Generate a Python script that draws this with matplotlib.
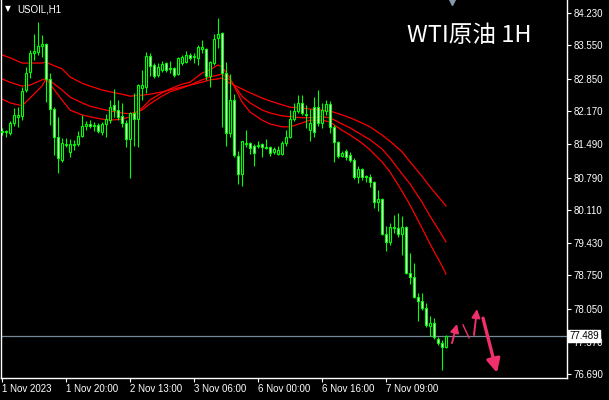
"""
USOIL H1 candlestick chart, MetaTrader style, with three moving averages
and hand-drawn forecast arrows.
"""

import numpy as np
import matplotlib
matplotlib.use("Agg")
import matplotlib.pyplot as plt

# ─── Candles (1 Nov 2023 → 7 Nov, hourly) ────────────────────────────────────
bar_open = [81.76, 81.74, 81.72, 81.93, 82.06, 82.08, 82.62, 82.99, 83.39, 83.41,
            83.54, 83.58, 82.85, 82.22, 81.64, 81.16, 81.47, 81.33, 81.47, 81.49,
            81.66, 81.87, 81.91, 81.87, 81.89, 81.74, 81.91, 81.99, 82.31, 82.20,
            82.08, 81.93, 81.60, 82.14, 82.01, 82.66, 82.68, 83.33, 83.14, 82.93,
            83.04, 83.18, 83.08, 83.08, 82.95, 83.18, 83.20, 83.35, 83.31, 83.29,
            83.47, 83.47, 82.91, 83.18, 83.70, 83.81, 82.97, 81.72, 82.41, 81.24,
            80.87, 81.49, 81.51, 81.45, 81.45, 81.49, 81.43, 81.43, 81.33, 81.28,
            81.28, 81.51, 81.64, 82.01, 82.18, 82.35, 82.12, 81.78, 82.26, 82.26,
            81.93, 82.18, 82.33, 81.85, 81.53, 81.24, 81.35, 81.26, 81.16, 80.80,
            80.97, 80.83, 80.80, 80.70, 80.28, 80.35, 79.62, 79.45, 79.74, 79.74,
            79.62, 79.76, 78.80, 78.72, 78.30, 78.22, 78.07, 77.70, 77.76, 77.43,
            77.34, 77.26]
bar_high = [81.83, 81.78, 81.97, 82.24, 82.26, 82.68, 83.10, 83.45, 83.79, 84.04,
            83.77, 83.60, 82.97, 82.26, 82.06, 81.62, 81.62, 81.60, 81.58, 81.76,
            82.10, 81.97, 81.99, 81.95, 81.93, 81.95, 82.12, 82.41, 82.64, 82.41,
            82.35, 81.99, 82.16, 82.56, 82.74, 83.04, 83.41, 83.39, 83.18, 83.18,
            83.22, 83.20, 83.22, 83.10, 83.31, 83.35, 83.43, 83.39, 83.39, 83.56,
            83.66, 83.49, 83.22, 83.79, 84.12, 83.83, 83.20, 82.95, 82.54, 81.35,
            81.55, 81.78, 81.53, 81.49, 81.55, 81.51, 81.60, 81.45, 81.43, 81.45,
            81.55, 81.78, 82.20, 82.35, 82.51, 82.51, 82.31, 82.22, 82.47, 82.62,
            82.35, 82.41, 82.39, 81.89, 81.55, 81.35, 81.39, 81.33, 81.20, 81.03,
            80.99, 80.85, 80.87, 80.72, 80.53, 80.37, 79.78, 79.85, 80.01, 80.05,
            79.99, 79.78, 79.22, 79.01, 78.39, 78.39, 78.18, 77.91, 77.86, 77.47,
            77.40, 77.51]
bar_low = [81.68, 81.64, 81.68, 81.87, 81.85, 81.99, 82.58, 82.87, 83.24, 83.35,
           83.31, 82.37, 81.89, 81.26, 80.89, 81.12, 81.43, 81.22, 81.37, 81.45,
           81.64, 81.78, 81.83, 81.76, 81.72, 81.68, 81.64, 81.93, 82.06, 81.99,
           81.85, 81.43, 80.78, 81.45, 81.43, 82.41, 82.56, 82.91, 82.87, 82.89,
           82.99, 82.99, 82.97, 82.89, 82.93, 83.14, 83.18, 83.24, 83.18, 83.14,
           83.39, 82.83, 82.68, 83.14, 83.49, 81.85, 81.45, 81.64, 81.22, 80.66,
           80.62, 81.43, 81.28, 81.03, 81.41, 81.22, 81.39, 81.24, 81.28, 81.26,
           81.26, 81.45, 81.62, 81.97, 82.14, 82.10, 81.83, 81.55, 81.64, 81.87,
           81.83, 82.10, 81.72, 81.12, 81.20, 81.22, 81.16, 81.12, 80.76, 80.68,
           80.74, 80.70, 80.60, 80.16, 80.09, 79.59, 79.26, 79.39, 79.64, 79.55,
           79.18, 78.78, 78.57, 78.28, 77.80, 78.03, 77.68, 77.49, 77.43, 77.30,
           76.78, 77.24]
bar_close = [81.74, 81.76, 81.93, 82.10, 82.10, 82.60, 82.97, 83.39, 83.43, 83.54,
             83.58, 82.85, 82.22, 81.64, 81.20, 81.51, 81.49, 81.49, 81.49, 81.66,
             81.87, 81.91, 81.87, 81.89, 81.76, 81.91, 82.01, 82.26, 82.20, 82.06,
             81.93, 81.60, 82.14, 82.01, 82.72, 82.72, 83.33, 83.12, 82.91, 83.10,
             83.16, 83.04, 83.06, 82.93, 83.29, 83.31, 83.35, 83.29, 83.33, 83.52,
             83.52, 82.91, 83.20, 83.68, 83.79, 82.97, 81.72, 82.41, 81.26, 80.87,
             81.55, 81.51, 81.41, 81.30, 81.47, 81.43, 81.41, 81.30, 81.39, 81.37,
             81.51, 81.64, 82.01, 82.18, 82.35, 82.14, 82.10, 81.93, 81.74, 81.93,
             82.20, 82.33, 81.85, 81.53, 81.24, 81.30, 81.22, 81.16, 80.80, 80.97,
             80.80, 80.80, 80.70, 80.28, 80.35, 79.62, 79.45, 79.76, 79.76, 79.62,
             79.76, 78.80, 78.72, 78.30, 78.22, 78.07, 77.72, 77.76, 77.47, 77.34,
             77.26, 77.49]

# ─── Moving averages, read at these bar positions ────────────────────────────
ma_idx = [0, 2, 5, 7, 10, 11, 12, 15, 17, 20, 22, 25, 27, 30, 32, 35, 37, 40, 42, 45,
          47, 50, 52, 54, 55, 57, 60, 62, 65, 67, 70, 72, 75, 77, 80, 82, 85, 87, 90, 92,
          95, 97, 100, 102, 105, 107, 110, 111]
ma_slow = [83.35, 83.29, 83.18, 83.18, 83.18, 83.20, 83.16, 83.06, 82.89, 82.76,
           82.70, 82.62, 82.58, 82.53, 82.49, 82.51, 82.53, 82.58, 82.62, 82.68,
           82.72, 82.78, 82.83, 82.85, 82.87, 82.76, 82.64, 82.56, 82.45, 82.39,
           82.31, 82.26, 82.24, 82.22, 82.20, 82.18, 82.10, 82.04, 81.93, 81.85,
           81.68, 81.55, 81.33, 81.12, 80.82, 80.60, 80.30, 80.20]
ma_mid = [82.85, 82.78, 82.70, 82.72, 82.83, 82.85, 82.81, 82.62, 82.47, 82.35,
          82.28, 82.22, 82.18, 82.14, 82.12, 82.20, 82.33, 82.49, 82.58, 82.66,
          82.72, 82.83, 82.89, 82.93, 82.95, 82.83, 82.49, 82.35, 82.20, 82.14,
          82.08, 82.06, 82.04, 82.04, 82.06, 82.04, 81.91, 81.83, 81.68, 81.58,
          81.39, 81.20, 80.87, 80.66, 80.28, 79.99, 79.59, 79.45]
ma_fast = [82.43, 82.35, 82.29, 82.45, 82.70, 82.85, 82.74, 82.41, 82.20, 82.10,
           82.06, 82.01, 81.99, 82.01, 82.06, 82.24, 82.41, 82.56, 82.64, 82.74,
           82.78, 82.97, 83.04, 83.14, 83.10, 82.87, 82.37, 82.16, 81.99, 81.91,
           81.85, 81.85, 81.93, 81.99, 81.99, 81.95, 81.78, 81.68, 81.51, 81.37,
           81.12, 80.91, 80.51, 80.22, 79.74, 79.41, 78.95, 78.78]

# ─── Axis labels ─────────────────────────────────────────────────────────────
x_tick_pos = [0, 16, 32, 48, 64, 80, 96]
x_tick_labels = ["1 Nov 2023", "1 Nov 20:00", "2 Nov 13:00", "3 Nov 06:00",
                 "6 Nov 00:00", "6 Nov 16:00", "7 Nov 09:00"]
y_ticks = [84.230, 83.550, 82.850, 82.170, 81.490, 80.790, 80.110, 79.430,
           78.750, 78.050, 77.370, 76.690]
last_price = 77.489

# forecast arrows drawn by hand: (bar, price) start -> end
arrow_small_1 = [(112.5, 77.34), (113.75, 77.74)]
stroke_down = [(115.25, 77.72), (116.75, 77.45)]
arrow_small_2 = [(118.0, 77.51), (118.75, 78.05)]
arrow_big = [(120.25, 77.86), (123.75, 76.72)]

# ─── Style ───────────────────────────────────────────────────────────────────
BG = "black"
GREEN = "#00FF00"
RED = "#FF0000"
PRICE_LINE = "#778899"
ARROW = "#F0306A"
FONT = "Liberation Sans"


def main():
    fig = plt.figure(figsize=(6.09, 4.00), dpi=100, facecolor=BG)
    ax = fig.add_axes([1 / 609, 22 / 400, 566 / 609, 378 / 400], facecolor=BG)

    o = np.array(bar_open)
    h = np.array(bar_high)
    l = np.array(bar_low)
    c = np.array(bar_close)
    x = np.arange(len(o))

    # wicks
    ax.vlines(x, l, h, color=GREEN, linewidth=0.8, zorder=2)
    # bodies: bull hollow (black), bear filled white
    bottoms = np.minimum(o, c)
    heights = np.abs(c - o)
    faces = np.where(c >= o, "black", "white")
    ax.bar(x, heights, bottom=bottoms, width=0.5, color=faces,
           edgecolor=GREEN, linewidth=0.8, zorder=3)

    # moving averages
    for ma in (ma_slow, ma_mid, ma_fast):
        ax.plot(ma_idx, ma, color=RED, linewidth=0.9, zorder=1.5)

    # last price line
    ax.axhline(last_price, color=PRICE_LINE, linewidth=0.9, zorder=1)

    # forecast arrows
    for seg in (arrow_small_1, arrow_small_2):
        ax.annotate("", xy=seg[1], xytext=seg[0],
                    arrowprops=dict(arrowstyle="-|>,head_length=0.5,head_width=0.25",
                                    color=ARROW, lw=1.4, shrinkA=0, shrinkB=0))
    ax.plot(*zip(*stroke_down), color=ARROW, linewidth=1.0)
    ax.annotate("", xy=arrow_big[1], xytext=arrow_big[0],
                arrowprops=dict(arrowstyle="-|>,head_length=0.8,head_width=0.4",
                                color=ARROW, lw=2.4, shrinkA=0, shrinkB=0))

    # ── Axes formatting ──────────────────────────────────────────────────
    ax.set_xlim(-0.25, 141.25)
    ax.set_ylim(76.612, 84.495)
    for side in ("left", "bottom", "right"):
        ax.spines[side].set_color("white")
        ax.spines[side].set_linewidth(1.0)
    ax.spines["top"].set_visible(False)

    ax.yaxis.tick_right()
    ax.set_yticks(y_ticks)
    ax.set_yticklabels([f"{v:.3f}" for v in y_ticks], fontsize=7,
                       color="white", family=FONT)
    ax.set_xticks(x_tick_pos)
    ax.set_xticklabels(x_tick_labels, fontsize=7, color="white", family=FONT)
    for lab in ax.get_xticklabels():
        lab.set_horizontalalignment("left")
    ax.tick_params(axis="both", colors="white", length=3, width=0.8, pad=2)
    ax.tick_params(axis="x", pad=1)

    # last price tag on the price scale
    ax.text(1.004, last_price, f"{last_price:.3f}", transform=ax.get_yaxis_transform(),
            fontsize=7, color="black", family=FONT, va="center", ha="left",
            bbox=dict(boxstyle="square,pad=0.12", facecolor="white", edgecolor="white"),
            clip_on=False, zorder=5)

    # chart shift marker at the top
    ax.plot([112.5], [84.46], marker="v", markersize=4.5, color="#8899AA",
            clip_on=False, zorder=4)

    # symbol caption and title
    fig.text(5 / 609, 1 - 9 / 400, "\u25BC", fontsize=5.5, color="white",
             va="center", ha="left")
    fig.text(17 / 609, 1 - 9 / 400, "USOIL,H1", fontsize=7, color="white",
             family=FONT, va="center", ha="left")
    fig.text(407 / 609, 1 - 36 / 400, "WTI原油 1H", fontsize=17, color="white",
             family=["Noto Sans CJK SC", "DejaVu Sans"], va="center", ha="left")

    fig.savefig("out.png", dpi=100, facecolor=BG)
    plt.close(fig)


if __name__ == "__main__":
    main()
